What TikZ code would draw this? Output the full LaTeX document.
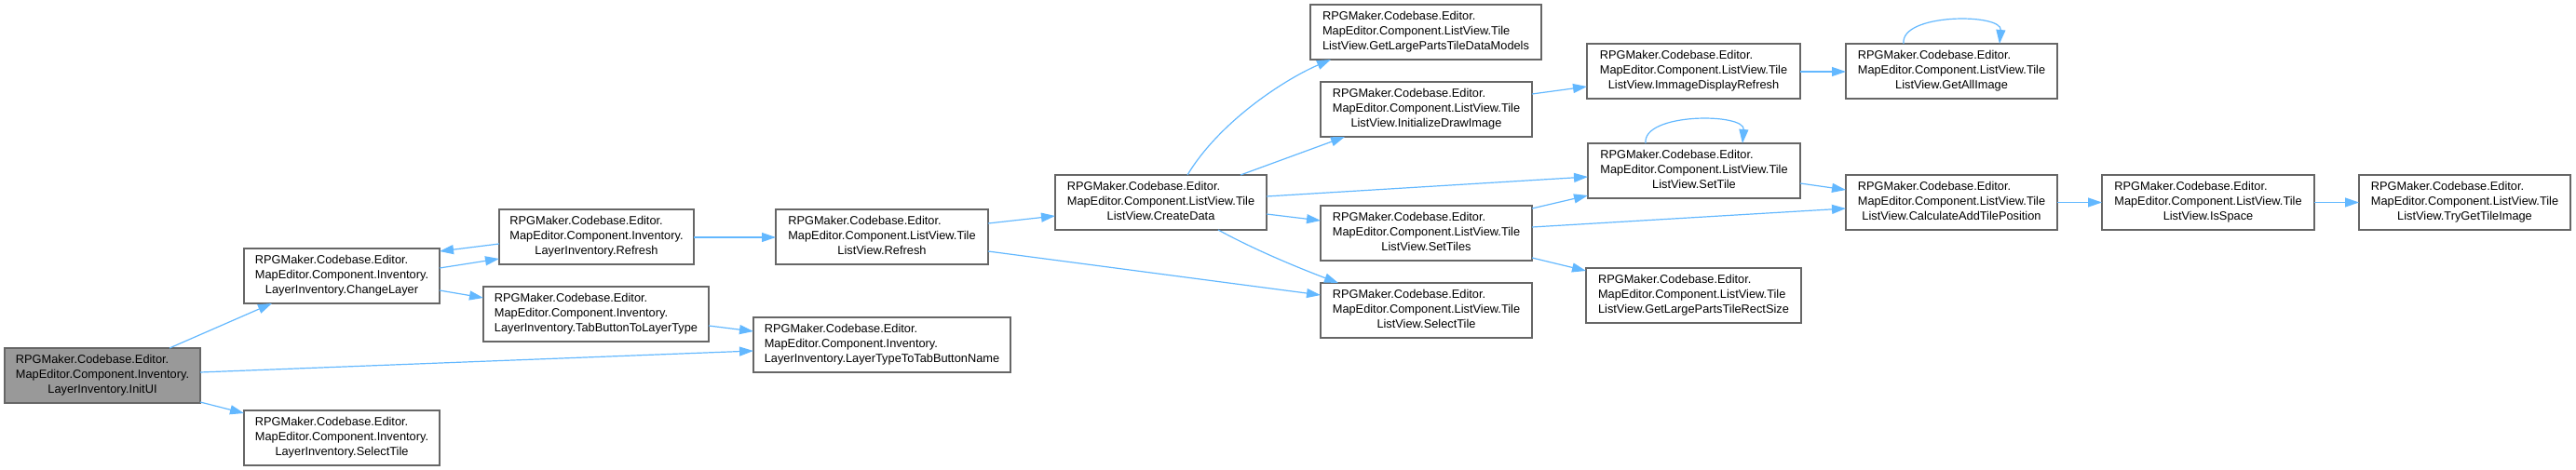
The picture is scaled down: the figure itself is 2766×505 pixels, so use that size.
\documentclass[tikz,border=0pt]{standalone}
\usepackage{fontspec}
\setmainfont{Liberation Sans}
\usetikzlibrary{arrows.meta,calc}
\definecolor{edgeblue}{HTML}{63B8FF}
\definecolor{boxborder}{HTML}{666666}
\definecolor{boxgray}{HTML}{999999}
\newcommand{\lbl}[3]{\begin{tabular}{@{}l@{}}#1\\#2\\\multicolumn{1}{@{}c@{}}{#3}\end{tabular}}
\newcommand{\inv}[1]{\lbl{RPGMaker.Codebase.Editor.}{MapEditor.Component.Inventory.}{LayerInventory.#1}}
\newcommand{\lv}[1]{\lbl{RPGMaker.Codebase.Editor.}{MapEditor.Component.ListView.Tile}{ListView.#1}}
\tikzset{
  fnbox/.style={draw=boxborder, fill=white, line width=1.2bp, anchor=north west,
    minimum height=59bp, inner sep=0pt, outer sep=0pt,
    font=\fontsize{12.8bp}{16bp}\selectfont},
  rootbox/.style={fnbox, fill=boxgray},
  calls/.style={draw=edgeblue, line width=1.2bp, -{Triangle[length=15bp,width=10bp]}},
}
\begin{document}
\begin{tikzpicture}[x=1bp,y=-1bp]
\useasboundingbox (0,0) rectangle (2766,505);
% nodes
\node[rootbox, minimum width=210bp] (initui) at (5,374) {\inv{InitUI}};
\node[fnbox, minimum width=210bp] (changelayer) at (262,267) {\inv{ChangeLayer}};
\node[fnbox, minimum width=210bp] (selinv) at (262,441) {\inv{SelectTile}};
\node[fnbox, minimum width=209bp] (refinv) at (536,225) {\inv{Refresh}};
\node[fnbox, minimum width=242bp] (tabbtn) at (519,308) {\inv{TabButtonToLayerType}};
\node[fnbox, minimum width=276bp] (laytype) at (809,341) {\inv{LayerTypeToTabButtonName}};
\node[fnbox, minimum width=228bp] (reflv) at (833,225) {\lv{Refresh}};
\node[fnbox, minimum width=227bp] (create) at (1133,188) {\lv{CreateData}};
\node[fnbox, minimum width=248bp] (getdata) at (1407,5) {\lv{GetLargePartsTileDataModels}};
\node[fnbox, minimum width=227bp] (initdraw) at (1418,88) {\lv{InitializeDrawImage}};
\node[fnbox, minimum width=227bp] (settiles) at (1418,221) {\lv{SetTiles}};
\node[fnbox, minimum width=227bp] (sellv) at (1418,304) {\lv{SelectTile}};
\node[fnbox, minimum width=229bp] (immdisp) at (1704,47) {\lv{ImmageDisplayRefresh}};
\node[fnbox, minimum width=227bp] (getall) at (1982,47) {\lv{GetAllImage}};
\node[fnbox, minimum width=228bp] (settile) at (1705,154) {\lv{SetTile}};
\node[fnbox, minimum width=227bp] (calcadd) at (1982,188) {\lv{CalculateAddTilePosition}};
\node[fnbox, minimum width=228bp] (isspace) at (2257,188) {\lv{IsSpace}};
\node[fnbox, minimum width=227bp] (tryget) at (2533,188) {\lv{TryGetTileImage}};
\node[fnbox, minimum width=231bp] (getrect) at (1703,288) {\lv{GetLargePartsTileRectSize}};
% edges
\draw[calls] ($(initui.north west)+(177,0)$) -- ($(changelayer.south west)+(30,0)$);
\draw[calls] ($(initui.north east)+(0,26)$) -- ($(laytype.north west)+(0,36)$);
\draw[calls] ($(initui.north east)+(0,58)$) -- ($(selinv.north west)+(0,3)$);
\draw[calls] ($(changelayer.north east)+(0,21)$) -- ($(refinv.north west)+(0,53)$);
\draw[calls] ($(refinv.north west)+(0,37)$) -- ($(changelayer.north east)+(0,3)$);
\draw[calls] ($(changelayer.north east)+(0,45)$) -- ($(tabbtn.north west)+(0,12)$);
\draw[calls] ($(tabbtn.north east)+(0,42)$) -- ($(laytype.north west)+(0,15)$);
\draw[calls] ($(refinv.north east)+(0,30)$) -- ($(reflv.north west)+(0,30)$);
\draw[calls] ($(reflv.north east)+(0,15)$) -- ($(create.north west)+(0,44)$);
\draw[calls] ($(reflv.north east)+(0,45)$) -- ($(sellv.north west)+(0,13)$);
\draw[calls] ($(create.north west)+(142,0)$) .. controls (1310,130) and (1380,85) .. ($(getdata.south west)+(22,0)$);
\draw[calls] ($(create.north west)+(199,0)$) -- ($(initdraw.south west)+(26,0)$);
\draw[calls] ($(create.north east)+(0,23)$) -- ($(settile.north west)+(0,36)$);
\draw[calls] ($(create.north east)+(0,42)$) -- ($(settiles.north west)+(0,16)$);
\draw[calls] ($(create.south west)+(175,0)$) .. controls (1350,270) and (1400,290) .. ($(sellv.north west)+(19,0)$);
\draw[calls] ($(initdraw.north east)+(0,13)$) -- ($(immdisp.north west)+(0,46)$);
\draw[calls] ($(immdisp.north east)+(0,30)$) -- ($(getall.north west)+(0,30)$);
\draw[calls] ($(getall.north west)+(62,0)$) .. controls (2040,14) and (2150,14) .. ($(getall.north west)+(165,0)$);
\draw[calls] ($(settile.north west)+(62,0)$) .. controls (1763,121) and (1874,121) .. ($(settile.north west)+(166,0)$);
\draw[calls] ($(settile.north east)+(0,43)$) -- ($(calcadd.north west)+(0,16)$);
\draw[calls] ($(settiles.north east)+(0,3)$) -- ($(settile.north west)+(0,56)$);
\draw[calls] ($(settiles.north east)+(0,23)$) -- ($(calcadd.north west)+(0,36)$);
\draw[calls] ($(settiles.north east)+(0,56)$) -- ($(getrect.north west)+(0,3)$);
\draw[calls] (calcadd.east) -- (isspace.west);
\draw[calls] (isspace.east) -- (tryget.west);
\end{tikzpicture}
\end{document}
